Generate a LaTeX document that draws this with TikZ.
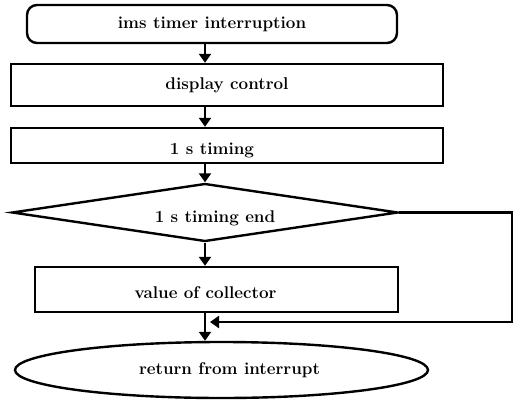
\documentclass[tikz,border=0pt]{standalone}
\usetikzlibrary{shapes.geometric,arrows.meta}
\begin{document}
\begin{tikzpicture}[x=1pt,y=-1pt,
  every node/.style={font=\fontsize{17}{19}\selectfont\bfseries, line width=2.4pt, inner sep=0pt},
  proc/.style={draw, rectangle},
  term/.style={draw, rectangle, rounded corners=10pt},
  dec/.style={draw, diamond, aspect=6.5},
  ell/.style={draw, ellipse},
  txt/.style={label={[xshift=#1]center:}},
  arr/.style={line width=2.4pt, -{Triangle[length=9pt,width=12pt]}},
  ln/.style={line width=2.4pt}]
\useasboundingbox (0,0) rectangle (521,401);
\node[term, minimum width=370pt, minimum height=38pt] (start) at (212,24) {ims timer interruption};
\node[proc, minimum width=432pt, minimum height=42pt] (disp) at (227,85) {display control};
\node[proc, minimum width=432pt, minimum height=35pt,
  label={[xshift=-15pt,yshift=-5pt]center:1 s timing}] (tim) at (227,145.5) {};
\node[dec, minimum width=386pt, minimum height=58pt,
  label={[xshift=10pt,yshift=-6pt]center:1 s timing end}] (diam) at (205,212.5) {};
\node[proc, minimum width=363pt, minimum height=45pt,
  label={[xshift=-11pt,yshift=-3pt]center:value of collector}] (val) at (216.5,289.5) {};
\node[ell, minimum width=413pt, minimum height=56pt,
  label={[xshift=8pt]center:return from interrupt}] (ret) at (221.5,370) {};
\coordinate (ax) at (205,0);
\coordinate (rx) at (512,0);
\coordinate (join) at (210,322);
\draw[arr] (start.south -| ax) -- (disp.north -| ax);
\draw[arr] (disp.south -| ax) -- (tim.north -| ax);
\draw[arr] (tim.south -| ax) -- (diam.north);
\draw[arr] (diam.south) -- (val.north -| ax);
\draw[arr] (val.south -| ax) -- (ret.north -| ax);
\draw[arr] (diam.east) -- (diam.east -| rx) |- (join);
\end{tikzpicture}
\end{document}
